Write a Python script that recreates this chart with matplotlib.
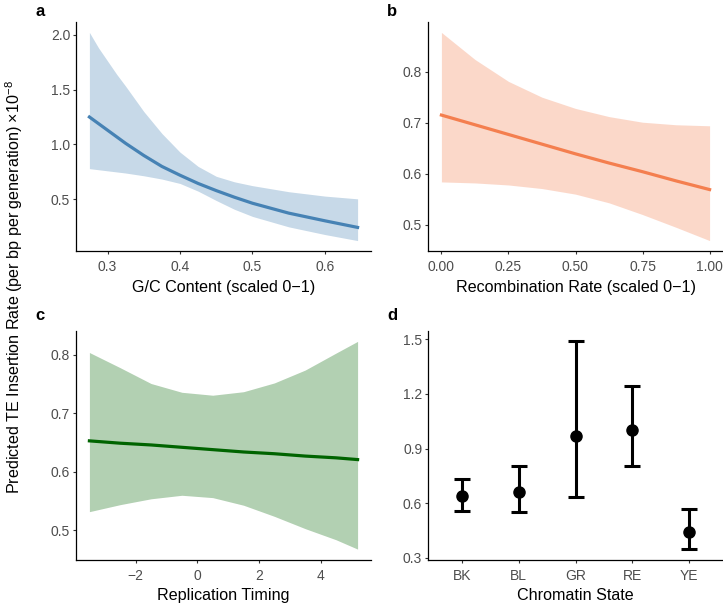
import matplotlib
matplotlib.use("Agg")
import matplotlib.pyplot as plt
import numpy as np

plt.rcParams['font.family'] = ['Liberation Sans', 'DejaVu Sans']
plt.rcParams['mathtext.fontset'] = 'custom'
plt.rcParams['mathtext.rm'] = 'Liberation Sans'

# panel a: G/C content
gc_x = [0.275, 0.2875, 0.30, 0.3125, 0.325, 0.35, 0.375, 0.40, 0.425, 0.45, 0.475, 0.50, 0.55, 0.60, 0.645]
gc_fit = [1.25, 1.19, 1.13, 1.07, 1.01, 0.90, 0.80, 0.72, 0.645, 0.58, 0.52, 0.465, 0.375, 0.305, 0.245]
gc_hi = [2.02, 1.88, 1.76, 1.64, 1.53, 1.30, 1.10, 0.93, 0.80, 0.71, 0.66, 0.625, 0.57, 0.53, 0.505]
gc_lo = [0.78, 0.77, 0.76, 0.75, 0.74, 0.715, 0.685, 0.645, 0.575, 0.49, 0.41, 0.345, 0.25, 0.18, 0.125]

# panel b: recombination rate
rec_x = [0.0, 0.125, 0.25, 0.375, 0.5, 0.625, 0.75, 0.875, 1.0]
rec_fit = [0.715, 0.696, 0.677, 0.658, 0.639, 0.621, 0.604, 0.586, 0.569]
rec_hi = [0.877, 0.824, 0.781, 0.750, 0.728, 0.712, 0.701, 0.696, 0.694]
rec_lo = [0.584, 0.582, 0.578, 0.571, 0.560, 0.543, 0.520, 0.495, 0.469]

# panel c: replication timing
rt_x = [-3.5, -2.5, -1.5, -0.5, 0.5, 1.5, 2.5, 3.5, 4.5, 5.2]
rt_fit = [0.653, 0.649, 0.646, 0.642, 0.638, 0.634, 0.631, 0.627, 0.624, 0.621]
rt_hi = [0.804, 0.778, 0.751, 0.736, 0.731, 0.737, 0.752, 0.774, 0.803, 0.823]
rt_lo = [0.532, 0.544, 0.554, 0.560, 0.556, 0.543, 0.524, 0.503, 0.484, 0.468]

# panel d: chromatin state
states = ['BK', 'BL', 'GR', 'RE', 'YE']
state_mean = [0.642, 0.663, 0.968, 1.000, 0.443]
state_hi = [0.733, 0.806, 1.488, 1.243, 0.567]
state_lo = [0.558, 0.549, 0.633, 0.806, 0.348]

W, H = 723, 603
fig = plt.figure(figsize=(W / 100, H / 100), dpi=100)


def box(l, t, r, b):
    return [l / W, 1 - b / H, (r - l) / W, (b - t) / H]


ax_a = fig.add_axes(box(76, 22, 371, 251))
ax_b = fig.add_axes(box(428, 22, 723, 251))
ax_c = fig.add_axes(box(76, 331, 371, 559.5))
ax_d = fig.add_axes(box(428, 331, 723, 559.5))

TICK_FS = 10
TITLE_FS = 11.6


def style(ax):
    for s in ['top', 'right']:
        ax.spines[s].set_visible(False)
    for s in ['left', 'bottom']:
        ax.spines[s].set_linewidth(0.9)
    ax.tick_params(length=2.4, width=0.8, color='#333333', labelcolor='#4d4d4d',
                   labelsize=TICK_FS)
    ax.tick_params(axis='x', pad=4.2)
    ax.tick_params(axis='y', pad=1.8)


def pad(lo, hi, f=0.05):
    r = hi - lo
    return lo - r * f, hi + r * f


def smooth_panel(ax, x, fit, lo, hi, col, xlabel):
    ax.fill_between(x, lo, hi, color=col, alpha=0.3, lw=0)
    ax.plot(x, fit, color=col, lw=2.3)
    ax.set_xlim(*pad(min(x), max(x)))
    ax.set_ylim(*pad(min(lo), max(hi)))
    ax.set_xlabel(xlabel, fontsize=TITLE_FS, labelpad=4)
    style(ax)


smooth_panel(ax_a, gc_x, gc_fit, gc_lo, gc_hi, '#4682b4', 'G/C Content (scaled 0\u22121)')
ax_a.set_xticks([0.3, 0.4, 0.5, 0.6])
ax_a.set_yticks([0.5, 1.0, 1.5, 2.0])
ax_a.set_yticklabels(['0.5', '1.0', '1.5', '2.0'])

smooth_panel(ax_b, rec_x, rec_fit, rec_lo, rec_hi, '#f47f4f', 'Recombination Rate (scaled 0\u22121)')
ax_b.set_xticks([0, 0.25, 0.5, 0.75, 1.0])
ax_b.set_xticklabels(['0.00', '0.25', '0.50', '0.75', '1.00'])
ax_b.set_yticks([0.5, 0.6, 0.7, 0.8])

smooth_panel(ax_c, rt_x, rt_fit, rt_lo, rt_hi, '#006400', 'Replication Timing')
ax_c.set_xticks([-2, 0, 2, 4])
ax_c.set_xticklabels(['\u22122', '0', '2', '4'])
ax_c.set_yticks([0.5, 0.6, 0.7, 0.8])

pos = np.arange(len(states))
mean = np.array(state_mean)
ax_d.errorbar(pos, mean, yerr=[mean - np.array(state_lo), np.array(state_hi) - mean],
              fmt='o', color='black', ms=8, elinewidth=2.2, capsize=5.5, capthick=2.2)
ax_d.set_xlim(-0.6, len(states) - 0.4)
ax_d.set_ylim(*pad(min(state_lo), max(state_hi)))
ax_d.set_xticks(pos)
ax_d.set_xticklabels(states)
ax_d.set_yticks([0.3, 0.6, 0.9, 1.2, 1.5])
ax_d.set_xlabel('Chromatin State', fontsize=TITLE_FS, labelpad=4)
style(ax_d)

for lab, x, y in [('a', 40, 11), ('b', 392, 11), ('c', 40, 316), ('d', 392, 316)]:
    fig.text(x / W, 1 - y / H, lab, fontsize=12, fontweight='bold', ha='center', va='center')

fig.text(14 / W, 1 - 287 / H,
         r'Predicted TE Insertion Rate (per bp per generation) $\times\mathregular{10^{-8}}$',
         rotation=90, fontsize=TITLE_FS, ha='center', va='center')

fig.savefig('out.png', dpi=100)
